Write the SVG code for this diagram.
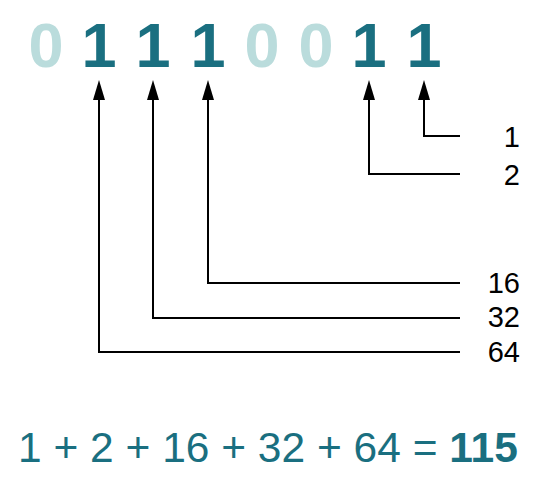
<svg xmlns="http://www.w3.org/2000/svg" width="545" height="484" viewBox="0 0 545 484">
<style>
.bit{font-family:"Liberation Sans",Arial,sans-serif;font-weight:bold;font-size:63px;text-anchor:middle}
.on{fill:#1a6f80}
.off{fill:#badcdc}
.lbl{font-family:"Liberation Sans",Arial,sans-serif;font-size:29px;fill:#000;text-anchor:end}
.eq{font-family:"Liberation Sans",Arial,sans-serif;font-size:42.5px;fill:#1a6f80}
.c{fill:none;stroke:#000;stroke-width:2}
</style>
<g id="bits">
<text id="b7" class="bit off" x="46" y="67">0</text>
<text id="b6" class="bit on" x="99" y="67">1</text>
<text id="b5" class="bit on" x="153" y="67">1</text>
<text id="b4" class="bit on" x="208" y="67">1</text>
<text id="b3" class="bit off" x="262" y="67">0</text>
<text id="b2" class="bit off" x="316" y="67">0</text>
<text id="b1" class="bit on" x="369" y="67">1</text>
<text id="b0" class="bit on" x="424" y="67">1</text>
</g>
<g id="connectors">
<path class="c" d="M460,136 H424 V99"/>
<path class="c" d="M460,174 H369 V99"/>
<path class="c" d="M460,283 H208 V99"/>
<path class="c" d="M460,318 H153 V99"/>
<path class="c" d="M460,352 H99 V99"/>
<path d="M418,100 L424,80 L430,100 Z"/>
<path d="M363,100 L369,80 L375,100 Z"/>
<path d="M202,100 L208,80 L214,100 Z"/>
<path d="M147,100 L153,80 L159,100 Z"/>
<path d="M93,100 L99,80 L105,100 Z"/>
</g>
<g id="labels">
<text id="l1" class="lbl" x="520" y="147">1</text>
<text id="l2" class="lbl" x="520" y="185">2</text>
<text id="l16" class="lbl" x="520" y="293">16</text>
<text id="l32" class="lbl" x="520" y="327">32</text>
<text id="l64" class="lbl" x="520" y="362">64</text>
</g>
<g id="equation">
<text class="eq" x="18" y="462">1 + 2 + 16 + 32 + 64 = <tspan font-weight="bold">115</tspan></text>
</g>
</svg>
